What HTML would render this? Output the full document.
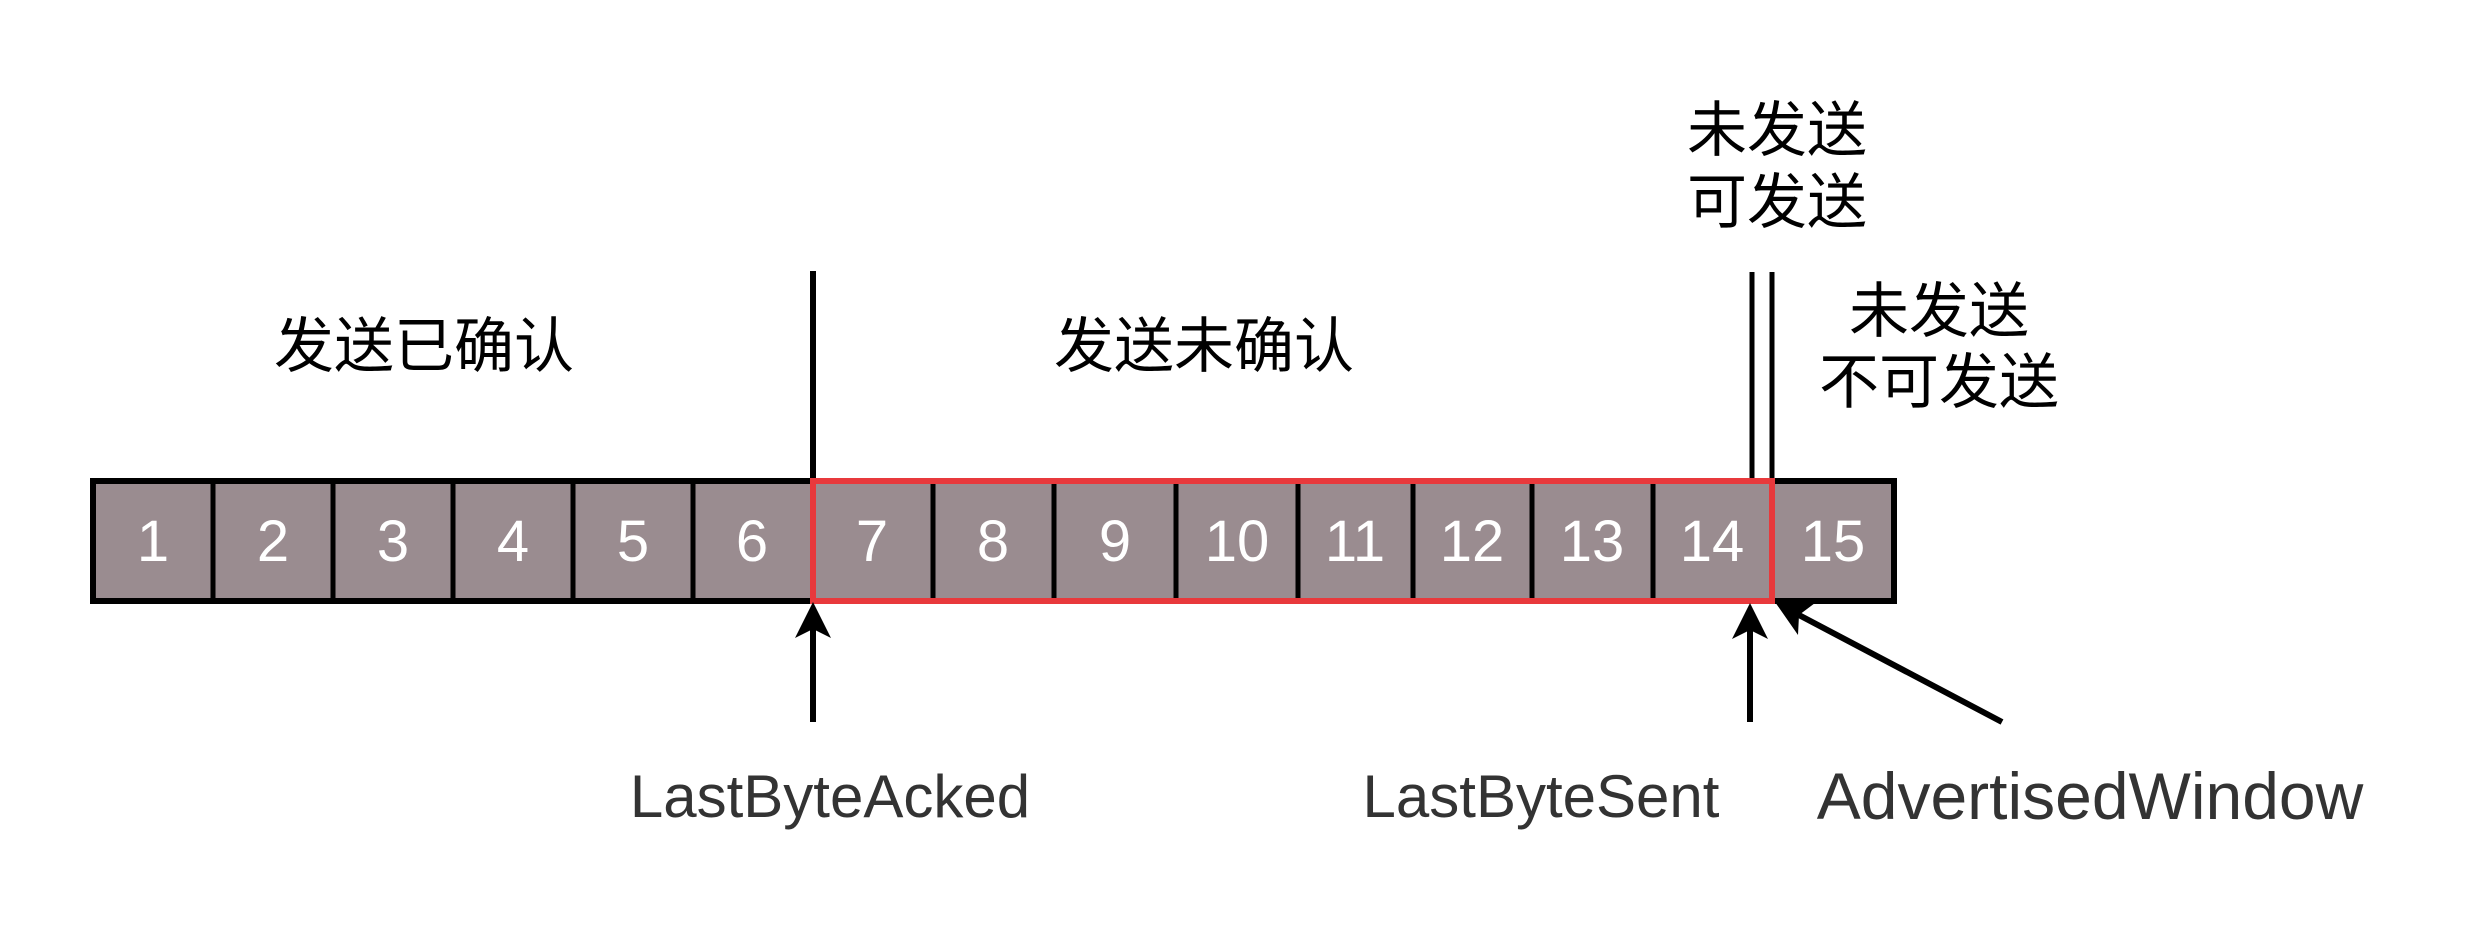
<!DOCTYPE html>
<html><head><meta charset="utf-8">
<style>
html,body{margin:0;padding:0;background:#fff;}
body{width:2481px;height:933px;overflow:hidden;}
svg{display:block;}
.cjk{font-family:"Liberation Sans","Noto Sans CJK SC",sans-serif;font-size:60px;fill:#000;}
.num{font-family:"Liberation Sans",sans-serif;font-size:58px;fill:#fff;}
.lbl{font-family:"Liberation Sans",sans-serif;fill:#333;}
</style></head>
<body>
<svg width="2481" height="933" viewBox="0 0 2481 933" xmlns="http://www.w3.org/2000/svg">
<rect x="0" y="0" width="2481" height="933" fill="#fff"/>

<!-- top labels -->
<text class="cjk" x="424" y="367" text-anchor="middle">发送已确认</text>
<text class="cjk" x="1204" y="367" text-anchor="middle">发送未确认</text>
<text class="cjk" x="1777" y="151" text-anchor="middle">未发送</text>
<text class="cjk" x="1777" y="223" text-anchor="middle">可发送</text>
<text class="cjk" x="1939" y="332" text-anchor="middle">未发送</text>
<text class="cjk" x="1939" y="403" text-anchor="middle">不可发送</text>

<!-- vertical markers -->
<line x1="813" y1="271" x2="813" y2="481" stroke="#000" stroke-width="6"/>
<line x1="1752" y1="272" x2="1752" y2="481" stroke="#000" stroke-width="5"/>
<line x1="1772" y1="272" x2="1772" y2="481" stroke="#000" stroke-width="5"/>

<!-- box -->
<rect x="93" y="481" width="1801" height="120" fill="#9a8c90" stroke="#000" stroke-width="6"/>
<g stroke="#000" stroke-width="5">
<line x1="213" y1="481" x2="213" y2="601"/>
<line x1="333" y1="481" x2="333" y2="601"/>
<line x1="453" y1="481" x2="453" y2="601"/>
<line x1="573" y1="481" x2="573" y2="601"/>
<line x1="693" y1="481" x2="693" y2="601"/>
<line x1="933" y1="481" x2="933" y2="601"/>
<line x1="1054" y1="481" x2="1054" y2="601"/>
<line x1="1176" y1="481" x2="1176" y2="601"/>
<line x1="1298" y1="481" x2="1298" y2="601"/>
<line x1="1413" y1="481" x2="1413" y2="601"/>
<line x1="1532" y1="481" x2="1532" y2="601"/>
<line x1="1653" y1="481" x2="1653" y2="601"/>
</g>
<rect x="813" y="481" width="959" height="120" fill="none" stroke="#e8393c" stroke-width="6"/>

<!-- numbers -->
<g class="num" text-anchor="middle">
<text x="153" y="561">1</text>
<text x="273" y="561">2</text>
<text x="393" y="561">3</text>
<text x="513" y="561">4</text>
<text x="633" y="561">5</text>
<text x="752" y="561">6</text>
<text x="872" y="561">7</text>
<text x="993" y="561">8</text>
<text x="1115" y="561">9</text>
<text x="1237" y="561">10</text>
<text x="1355" y="561">11</text>
<text x="1472" y="561">12</text>
<text x="1592" y="561">13</text>
<text x="1712" y="561">14</text>
<text x="1833" y="561">15</text>
</g>

<!-- arrows -->
<line x1="813" y1="722" x2="813" y2="628" stroke="#000" stroke-width="6"/>
<polygon points="813,602 831,638 813,629 795,638" fill="#000"/>
<line x1="1750" y1="722" x2="1750" y2="628" stroke="#000" stroke-width="6"/>
<polygon points="1750,603 1768,639 1750,630 1732,639" fill="#000"/>
<line x1="2002" y1="722" x2="1797" y2="614" stroke="#000" stroke-width="6"/>
<polygon points="1775,602 1815,603 1799,615 1798,635" fill="#000"/>

<!-- bottom labels -->
<text class="lbl" x="830" y="817" font-size="60" text-anchor="middle">LastByteAcked</text>
<text class="lbl" x="1541" y="817" font-size="60" text-anchor="middle">LastByteSent</text>
<text class="lbl" x="2090" y="819" font-size="66" text-anchor="middle">AdvertisedWindow</text>
</svg>
</body></html>
